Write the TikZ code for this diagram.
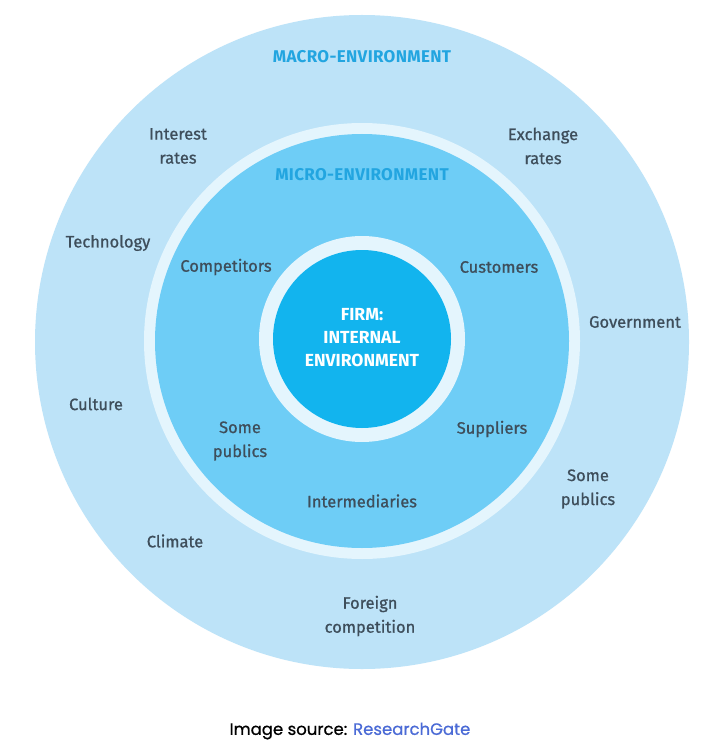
\documentclass[tikz,border=0pt]{standalone}
\usepackage{fontspec}
\setmainfont{Fira Sans}
\newfontfamily\lblfont{Fira Sans}[FakeBold=0.9]
\newfontfamily\popfont{Poppins}[FakeBold=0.7]
\definecolor{outerc}{HTML}{BDE3F8}
\definecolor{ringc}{HTML}{E4F5FD}
\definecolor{microc}{HTML}{6ECDF6}
\definecolor{firmc}{HTML}{12B4EE}
\definecolor{txtc}{HTML}{3E4E5B}
\definecolor{headc}{HTML}{22A5E0}
\definecolor{linkc}{HTML}{4B6BD6}
\tikzset{
  disc/.style={circle, inner sep=0pt, draw=none},
  lbl/.style={align=center, text=txtc, inner sep=0pt, font=\lblfont\fontsize{16.5}{24}\selectfont},
  head/.style={align=center, text=headc, inner sep=0pt, font=\fontsize{17}{24}\selectfont\bfseries\addfontfeatures{LetterSpace=2}},
  firmtxt/.style={align=center, text=white, inner sep=0pt, font=\fontsize{17.5}{23}\selectfont\bfseries}
}
\begin{document}
\begin{tikzpicture}[x=1pt,y=-1pt]
\useasboundingbox (0,0) rectangle (720,743);
\fill[white] (0,0) rectangle (720,743);
\node[disc, fill=outerc, minimum size=654pt] (macro) at (362,342) {};
\node[disc, fill=ringc, minimum size=436pt] (microring) at (362,341) {};
\node[disc, fill=microc, minimum size=414pt] (micro) at (362,341) {};
\node[disc, fill=ringc, minimum size=206pt] (firmring) at (362,339) {};
\node[disc, fill=firmc, minimum size=178pt] (firm) at (362,339) {};

\node[head] (macrot) at (362,57) {MACRO-ENVIRONMENT};
\node[head] (microt) at (362,175) {MICRO-ENVIRONMENT};
\node[firmtxt] (firmt) at (362,338) {FIRM:\\INTERNAL\\ENVIRONMENT};

\node[lbl] (interest) at (178,146) {Interest\\rates};
\node[lbl] (exchange) at (543,146) {Exchange\\rates};
\node[lbl] (tech) at (108,243) {Technology};
\node[lbl] (gov) at (635,322) {Government};
\node[lbl] (culture) at (96,404) {Culture};
\node[lbl] (somer) at (588,489) {Some\\publics};
\node[lbl] (climate) at (175,541) {Climate};
\node[lbl] (foreign) at (370,616) {Foreign\\competition};

\node[lbl] (comp) at (226,267) {Competitors};
\node[lbl] (cust) at (499,267) {Customers};
\node[lbl] (somel) at (240,441) {Some\\publics};
\node[lbl] (supp) at (492,429) {Suppliers};
\node[lbl] (inter) at (362,501) {Intermediaries};

\node[inner sep=0pt, font=\popfont\fontsize{16.5}{18}\selectfont] (src) at (350,731) {Image source: \textcolor{linkc}{ResearchGate}};
\end{tikzpicture}
\end{document}
